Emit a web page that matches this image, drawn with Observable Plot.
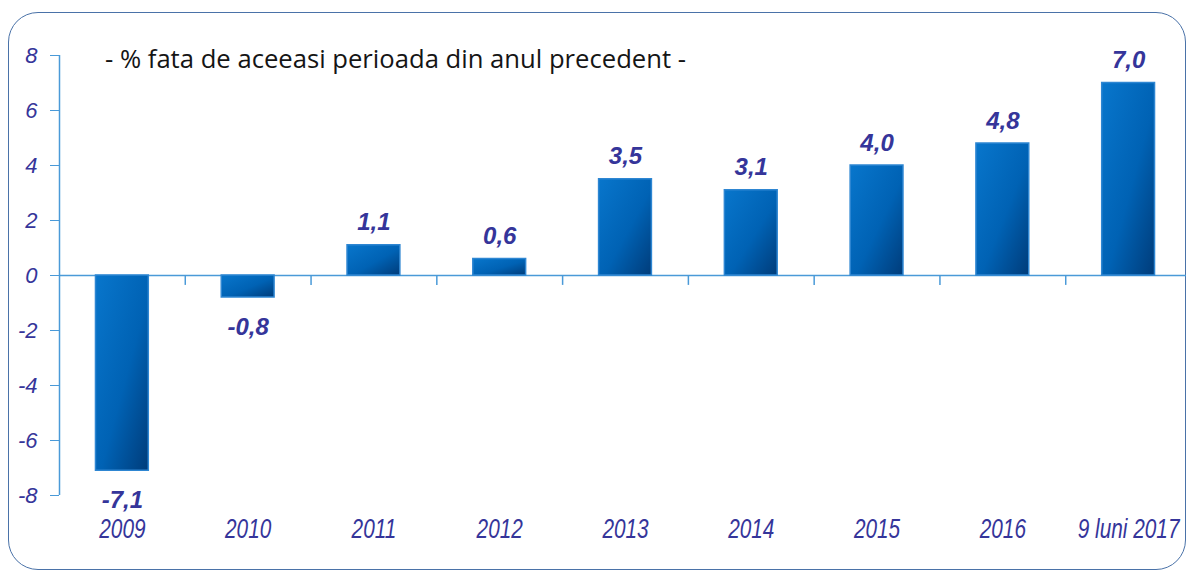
<!DOCTYPE html>
<html><head><meta charset="utf-8">
<script src="https://cdn.jsdelivr.net/npm/d3@7"></script>
<script src="https://cdn.jsdelivr.net/npm/@observablehq/plot@0.6"></script>
<style>
html,body{margin:0;padding:0;background:#fff}
body{width:1186px;height:572px;overflow:hidden;position:relative;font-family:"Liberation Sans",Arial,sans-serif}
#frame{position:absolute;left:8px;top:12px;width:1178px;height:558px;border:1.5px solid #4a72a8;border-radius:30px;box-sizing:border-box}
#chart{position:absolute;left:0;top:0}
#title{position:absolute;left:105px;top:41px;font-family:"Open Sans",sans-serif;font-size:25px;color:#151515;white-space:nowrap;transform-origin:0 0}
</style></head>
<body>
<div id="frame"></div>
<div id="chart"></div>
<div id="title">- % fata de aceeasi perioada din anul precedent -</div>
<script>
const categories = ["2009", "2010", "2011", "2012", "2013", "2014", "2015", "2016", "9 luni 2017"];
const values = [-7.1, -0.8, 1.1, 0.6, 3.5, 3.1, 4.0, 4.8, 7.0];
const yTicks = [-8, -6, -4, -2, 0, 2, 4, 6, 8];
const titleText = "- % fata de aceeasi perioada din anul precedent -";

const data = categories.map((c, i) => ({cat: c, value: values[i]}));
const fmt = v => (v < 0 ? "-" : "") + Math.abs(v).toFixed(1).replace(".", ",");

const W = 1186, H = 572;
const xRange = [59, 1191];
const step = (xRange[1] - xRange[0]) / categories.length;
const navy = "#35359a";
const axisBlue = "#4a9ad8";

const svg = Plot.plot({
  width: W,
  height: H,
  marginLeft: 59,
  marginRight: 0,
  marginTop: 55,
  marginBottom: 77,
  style: {fontFamily: "'Liberation Sans', Arial, sans-serif", background: "transparent", overflow: "visible"},
  x: {domain: categories, range: xRange, paddingInner: 0.58, paddingOuter: 0.29, round: false, axis: null, label: null},
  y: {domain: [-8, 8], axis: null, label: null},
  marks: [
    Plot.ruleY([0], {stroke: axisBlue, strokeWidth: 1.5}),
    Plot.ruleX([categories[0]], {dx: -step / 2, y1: -8, y2: 8, stroke: axisBlue, strokeWidth: 1.5}),
    Plot.ruleX(categories.slice(0, -1), {dx: step / 2, y1: 0, y2: -0.36, stroke: axisBlue, strokeWidth: 1.5}),
    Plot.axisY({ticks: yTicks, tickSize: 9, tickPadding: 13, stroke: axisBlue, fill: navy, fontSize: 22, fontStyle: "italic",
      label: null, tickFormat: d => (d < 0 ? "-" : "") + Math.abs(d)}),
    Plot.barY(data, {x: "cat", y: "value", fill: "url(#barGrad)", stroke: "#2e86d2", strokeWidth: 1.5}),
    Plot.axisX({tickSize: 0, tickPadding: 23, fill: navy, fontSize: 27, fontStyle: "italic", label: null}),
    Plot.text(data.filter(d => d.value >= 0), {x: "cat", y: "value", text: d => fmt(d.value), lineAnchor: "bottom", dy: -15,
      fill: navy, fontSize: 24, fontWeight: "bold", fontStyle: "italic"}),
    Plot.text(data.filter(d => d.value < 0), {x: "cat", y: "value", text: d => fmt(d.value), lineAnchor: "top", dy: 20,
      fill: navy, fontSize: 24, fontWeight: "bold", fontStyle: "italic"})
  ]
});

const defs = d3.select(svg).insert("defs", ":first-child");
const grad = defs.append("linearGradient").attr("id", "barGrad")
  .attr("x1", 0).attr("y1", 0).attr("x2", 1).attr("y2", 1);
grad.append("stop").attr("offset", "0%").attr("stop-color", "#0876cc");
grad.append("stop").attr("offset", "55%").attr("stop-color", "#0062b4");
grad.append("stop").attr("offset", "100%").attr("stop-color", "#003c7a");

document.getElementById("chart").appendChild(svg);

// condensed look of the category labels
svg.querySelectorAll('g[aria-label="x-axis tick label"] text').forEach(t => {
  t.setAttribute("transform", (t.getAttribute("transform") || "") + " scale(0.77,1)");
});

// fit title width
const title = document.getElementById("title");
title.textContent = titleText;
const tw = title.getBoundingClientRect().width;
title.style.transform = `scaleX(${581 / tw})`;
</script>
</body></html>
